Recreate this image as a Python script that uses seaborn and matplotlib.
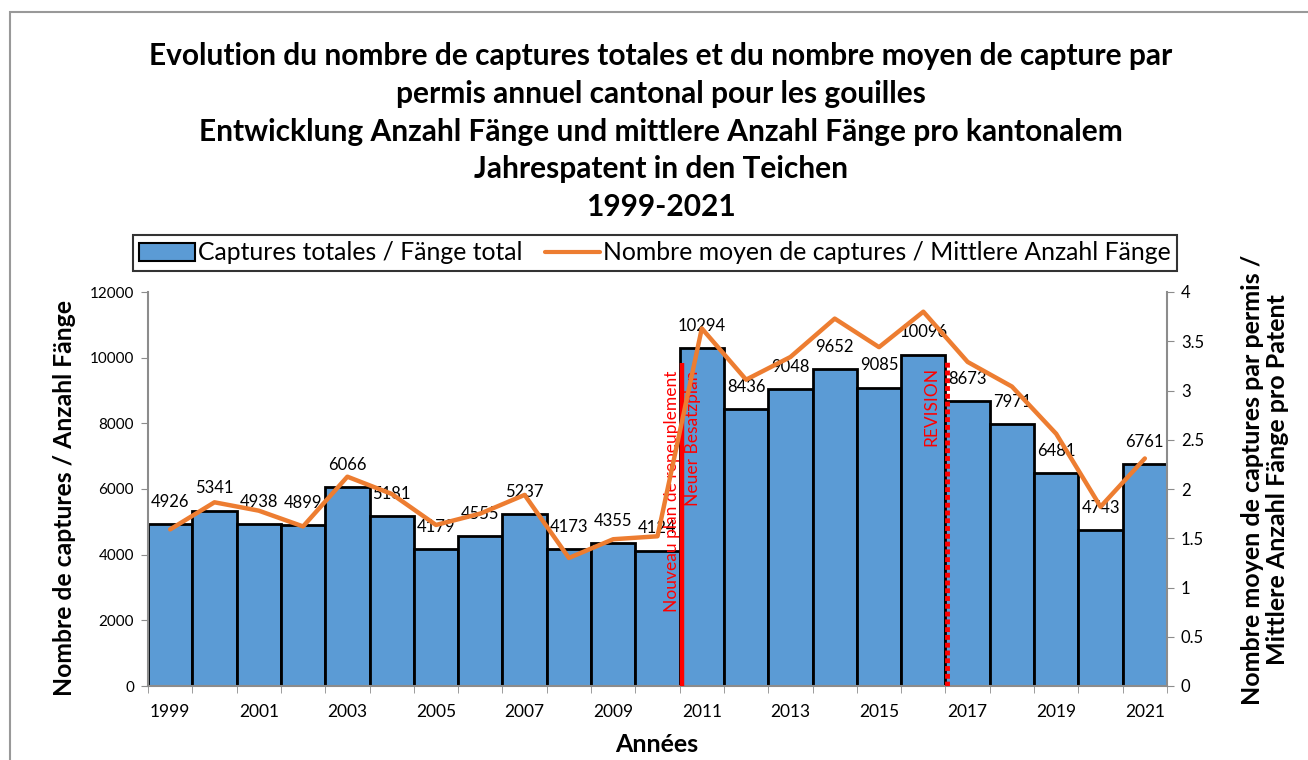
import numpy as np
import pandas as pd
import seaborn as sns
import matplotlib.pyplot as plt
from matplotlib.patches import Patch, Rectangle
from matplotlib.lines import Line2D

# données
years = list(range(1999, 2022))
captures = [4926, 5341, 4938, 4899, 6066, 5181, 4179, 4555, 5237, 4173, 4355, 4124,
            10294, 8436, 9048, 9652, 9085, 10096, 8673, 7971, 6481, 4743, 6761]
moyenne = [1.59, 1.865, 1.78, 1.62, 2.125, 1.95, 1.635, 1.75, 1.94, 1.30, 1.49, 1.52,
           3.63, 3.11, 3.34, 3.73, 3.44, 3.80, 3.29, 3.04, 2.56, 1.82, 2.31]

title = ("Evolution du nombre de captures totales et du nombre moyen de capture par\n"
         "permis annuel cantonal pour les gouilles\n"
         "Entwicklung Anzahl Fänge und mittlere Anzahl Fänge pro kantonalem\n"
         "Jahrespatent in den Teichen\n"
         "1999-2021")
lab_bar = "Captures totales / Fänge total"
lab_line = "Nombre moyen de captures / Mittlere Anzahl Fänge"

blue = "#5B9BD5"
orange = "#ED7D31"
grey = "#8C8C8C"

sns.set_style("white")
plt.rcParams['font.family'] = ['Lato', 'DejaVu Sans']
plt.rcParams['text.color'] = 'black'
plt.rcParams['xtick.labelcolor'] = 'black'
plt.rcParams['ytick.labelcolor'] = 'black'

df = pd.DataFrame({'annee': years, 'captures': captures, 'moyenne': moyenne})
pos = np.arange(len(years))

fig = plt.figure(figsize=(13.08, 7.6), dpi=100)
ax = fig.add_axes([148/1308, 1-686/760, (1167-148)/1308, (686-292)/760])

sns.barplot(data=df, x='annee', y='captures', color=blue, width=1.0, saturation=1,
            edgecolor='black', linewidth=2, ax=ax, zorder=2)
ax.set_ylim(0, 12000)
ax.set_xlim(-0.5, len(years)-0.5)
ax.set_yticks(range(0, 12001, 2000))
ax.set_xlabel('')
ax.set_ylabel('')

# étiquettes de valeurs
for i, v in enumerate(captures):
    ax.annotate(str(v), (pos[i], v), xytext=(0, 16), textcoords='offset points',
                ha='center', va='center', fontsize=12, zorder=6)

# lignes rouges (nouveau plan / révision)
ax.vlines(years.index(2011) - 0.45, 0, 9850, color='red', lw=3.2, zorder=5)
ax.vlines(years.index(2017) - 0.47, 0, 9880, color='red', lw=3.5,
          linestyles=(0, (1, 0.6)), zorder=5)
ax.text(years.index(2011) - 0.68, 9600, "Nouveau plan de repeuplement", rotation=90,
        color='red', fontsize=12.5, ha='center', va='top', zorder=6)
ax.text(years.index(2011) - 0.21, 9600, "Neuer Besatzplan", rotation=90,
        color='red', fontsize=12.5, ha='center', va='top', zorder=6)
ax.text(years.index(2017) - 0.81, 9720, "REVISION", rotation=90,
        color='red', fontsize=12.5, ha='center', va='top', zorder=6)

# axe x : années une sur deux, petites graduations entre les barres
ax.set_xticks(pos[::2])
ax.set_xticklabels([str(y) for y in years[::2]], fontsize=12.5)
ax.set_xticks(np.arange(-0.5, len(years), 1.0), minor=True)
ax.tick_params(axis='x', which='major', length=0, pad=13)
ax.tick_params(axis='x', which='minor', length=5, color=grey, direction='out')
ax.tick_params(axis='y', length=5, color=grey, direction='out', labelsize=11, pad=5)
ax.tick_params(bottom=True, left=True, which='both')

for s in ['top', 'right']:
    ax.spines[s].set_visible(False)
for s in ['left', 'bottom']:
    ax.spines[s].set_color(grey)
    ax.spines[s].set_linewidth(1.5)

ax2 = ax.twinx()
sns.lineplot(x=pos, y=moyenne, color=orange, lw=3.2, ax=ax2, sort=False, zorder=4)
ax2.set_ylim(0, 4)
ax2.set_yticks(np.arange(0, 4.01, 0.5))
ax2.set_yticklabels(['0', '0.5', '1', '1.5', '2', '2.5', '3', '3.5', '4'])
ax2.tick_params(axis='y', length=5, color=grey, direction='out', labelsize=12, pad=5, right=True)
for s in ['top', 'left', 'bottom']:
    ax2.spines[s].set_visible(False)
ax2.spines['right'].set_color(grey)
ax2.spines['right'].set_linewidth(1.5)

# titres
fig.text(661/1308, 1-131.5/760, title, ha='center', va='center', fontsize=21.5,
         fontweight='bold', linespacing=1.42)
fig.text(65/1308, 1-498/760, "Nombre de captures / Anzahl Fänge", rotation=90,
         ha='center', va='center', fontsize=17.8, fontweight='bold')
fig.text(1265/1308, 1-480/760,
         "Nombre moyen de captures par permis /\nMittlere Anzahl Fänge pro Patent",
         rotation=90, ha='center', va='center', fontsize=18, fontweight='bold',
         linespacing=1.15)
fig.text(657/1308, 1-745/760, "Années", ha='center', va='center', fontsize=18,
         fontweight='bold')

# légende
handles = [Patch(facecolor=blue, edgecolor='black', lw=1.5, label=lab_bar),
           Line2D([0], [0], color=orange, lw=3, label=lab_line)]
leg = fig.legend(handles=handles, loc='center', bbox_to_anchor=(655/1308, 1-253/760),
                 ncol=2, fontsize=17.8, frameon=True, fancybox=False, edgecolor='black',
                 handlelength=2.26, handleheight=0.7, handletextpad=0.12,
                 columnspacing=0.9, borderpad=0.25, borderaxespad=0)
leg.get_frame().set_linewidth(1.5)

# cadre gris de la figure
fig.patches.append(Rectangle((10/1308, -0.1), 1.2, 1 - 12/760 + 0.1,
                             transform=fig.transFigure, fill=False,
                             edgecolor='#999999', lw=1.5))

fig.savefig('out.png', dpi=100)
